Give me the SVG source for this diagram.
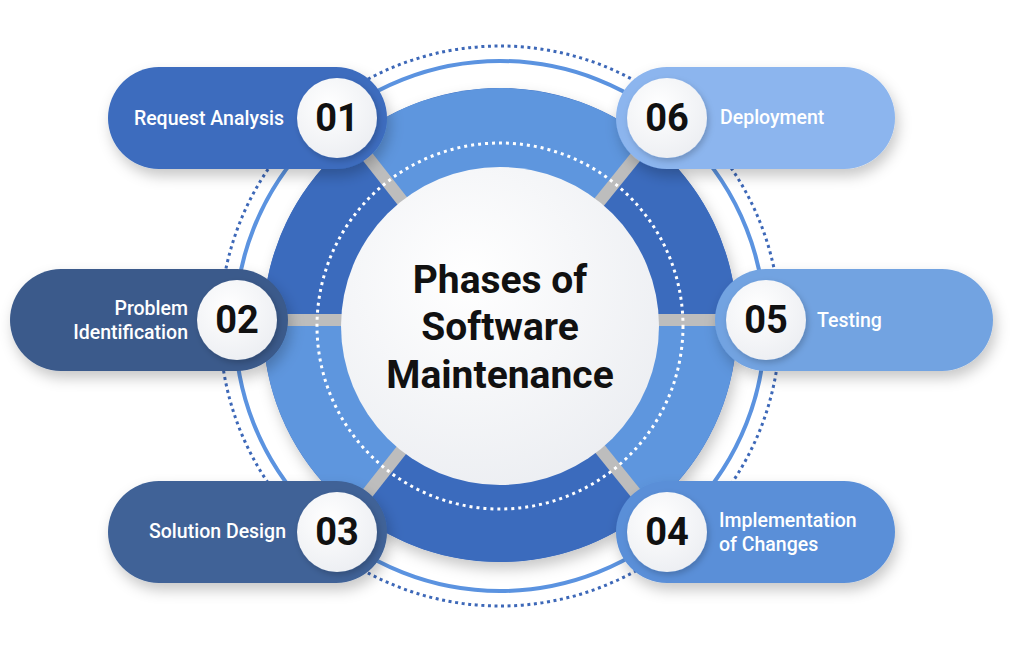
<svg xmlns="http://www.w3.org/2000/svg" width="1024" height="648" viewBox="0 0 1024 648">
<defs>
<style>
.lbl{font-family:Roboto,"Liberation Sans",sans-serif;font-weight:500;font-size:19.5px;fill:#ffffff}
.num{font-family:Roboto,"Liberation Sans",sans-serif;font-weight:700;font-size:38px;fill:#111111;text-anchor:middle}
.title{font-family:Roboto,"Liberation Sans",sans-serif;font-weight:700;font-size:39px;fill:#111111;text-anchor:middle}
.sep{stroke:#bdbdbd;stroke-width:12;fill:none}
.dark{fill:#3b6bbd}
.light{fill:#5e96de}
</style>
<filter id="sh" x="-20%" y="-30%" width="150%" height="170%">
<feDropShadow dx="3" dy="7" stdDeviation="7" flood-color="#000" flood-opacity="0.22"/>
</filter>
<filter id="shc" x="-30%" y="-30%" width="160%" height="160%">
<feDropShadow dx="2" dy="3" stdDeviation="3" flood-color="#000" flood-opacity="0.2"/>
</filter>
<radialGradient id="wg" cx="0.4" cy="0.35" r="0.7">
<stop offset="0" stop-color="#ffffff"/>
<stop offset="1" stop-color="#eceef2"/>
</radialGradient>
</defs>
<rect width="1024" height="648" fill="#ffffff"/>
<g id="rings">
<circle cx="500" cy="326" r="280" fill="none" stroke="#3d68b8" stroke-width="3" stroke-dasharray="3 3.6"/>
<circle cx="500" cy="326" r="265" fill="none" stroke="#5b93e0" stroke-width="4"/>
<circle cx="500" cy="325" r="237" fill="#3b6bbd" filter="url(#sh)"/>
<path class="dark" d="M500,325 L648.8,140.6 A237,237 0 0 1 736.96,320.5 Z"/>
<path class="light" d="M500,325 L353.4,138.8 A237,237 0 0 1 648.8,140.6 Z"/>
<path class="dark" d="M500,325 L263,320.5 A237,237 0 0 1 353.4,138.8 Z"/>
<path class="light" d="M500,325 L353.4,511.2 A237,237 0 0 1 263,320.5 Z"/>
<path class="dark" d="M500,325 L648.8,509.4 A237,237 0 0 1 353.4,511.2 Z"/>
<path class="light" d="M500,325 L736.96,320.5 A237,237 0 0 1 648.8,509.4 Z"/>
</g>
<g id="connectors">
<line class="sep" x1="500" y1="325" x2="337" y2="118"/>
<line class="sep" x1="500" y1="320" x2="237" y2="320"/>
<line class="sep" x1="500" y1="325" x2="337" y2="532"/>
<line class="sep" x1="500" y1="325" x2="667" y2="532"/>
<line class="sep" x1="500" y1="320" x2="766" y2="320"/>
<line class="sep" x1="500" y1="325" x2="667" y2="118"/>
</g>
<circle cx="500" cy="326" r="183" fill="none" stroke="#ffffff" stroke-width="3" stroke-dasharray="3 4"/>
<g id="center">
<circle cx="500" cy="326" r="159" fill="url(#wg)"/>
<text class="title" x="500" y="293">Phases of</text>
<text class="title" x="500" y="340">Software</text>
<text class="title" x="500" y="388">Maintenance</text>
</g>
<g id="n01">
<rect x="108" y="67" width="279" height="102" rx="51" fill="#3c6cbe" filter="url(#sh)"/>
<circle cx="337" cy="118" r="40" fill="url(#wg)" filter="url(#shc)"/>
<text class="num" x="337" y="131">01</text>
<text class="lbl" x="284" y="125" text-anchor="end">Request Analysis</text>
</g>
<g id="n02">
<rect x="10" y="269" width="278" height="102" rx="51" fill="#3b5a8b" filter="url(#sh)"/>
<circle cx="237" cy="320" r="40" fill="url(#wg)" filter="url(#shc)"/>
<text class="num" x="237" y="333">02</text>
<text class="lbl" x="188" y="315" text-anchor="end">Problem</text>
<text class="lbl" x="188" y="339" text-anchor="end">Identification</text>
</g>
<g id="n03">
<rect x="108" y="481" width="279" height="102" rx="51" fill="#3f6297" filter="url(#sh)"/>
<circle cx="337" cy="532" r="40" fill="url(#wg)" filter="url(#shc)"/>
<text class="num" x="337" y="545">03</text>
<text class="lbl" x="286" y="538" text-anchor="end">Solution Design</text>
</g>
<g id="n04">
<rect x="616" y="481" width="279" height="102" rx="51" fill="#5a8fd8" filter="url(#sh)"/>
<circle cx="667" cy="532" r="40" fill="url(#wg)" filter="url(#shc)"/>
<text class="num" x="667" y="545">04</text>
<text class="lbl" x="719" y="527">Implementation</text>
<text class="lbl" x="719" y="551">of Changes</text>
</g>
<g id="n05">
<rect x="715" y="269" width="278" height="102" rx="51" fill="#72a3e1" filter="url(#sh)"/>
<circle cx="766" cy="320" r="40" fill="url(#wg)" filter="url(#shc)"/>
<text class="num" x="766" y="333">05</text>
<text class="lbl" x="817" y="327">Testing</text>
</g>
<g id="n06">
<rect x="616" y="67" width="279" height="102" rx="51" fill="#8cb5ee" filter="url(#sh)"/>
<circle cx="667" cy="118" r="40" fill="url(#wg)" filter="url(#shc)"/>
<text class="num" x="667" y="131">06</text>
<text class="lbl" x="720" y="124">Deployment</text>
</g>
</svg>
